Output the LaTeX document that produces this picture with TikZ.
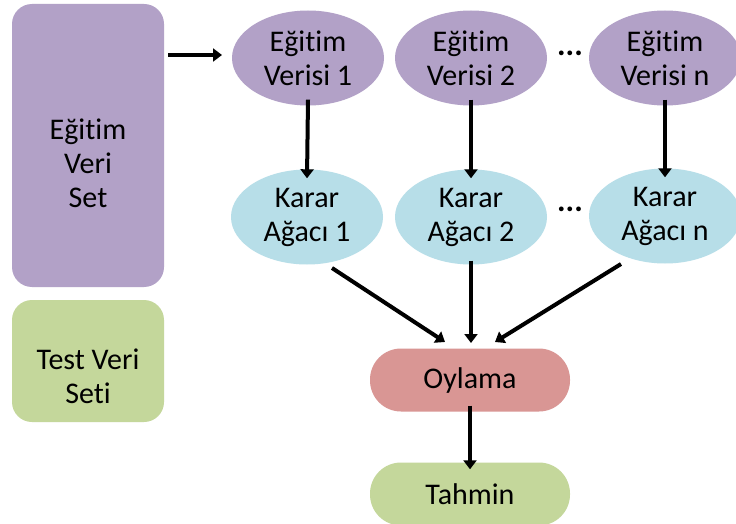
\documentclass[tikz,border=0pt]{standalone}
\usepackage{fontspec}
\setmainfont{Carlito}[Ligatures=NoCommon]
\usetikzlibrary{shapes.geometric,arrows.meta}
\definecolor{lpurple}{HTML}{B2A1C7}
\definecolor{lblue}{HTML}{B7DEE8}
\definecolor{lred}{HTML}{D99694}
\definecolor{lgreen}{HTML}{C4D79B}
\tikzset{
  txt/.style={font=\fontsize{30}{34}\selectfont, text=black, align=center},
  ell/.style={ellipse, txt, minimum width=152pt, minimum height=95pt, inner sep=0pt},
  trainell/.style={ell, fill=lpurple},
  treeell/.style={ell, fill=lblue},
  box/.style={rectangle, rounded corners=20pt, inner sep=0pt},
  pill/.style={rectangle, rounded corners=31pt, txt, minimum width=200pt, minimum height=63pt, inner sep=0pt},
  arr/.style={line width=4pt, -{Triangle[width=13pt,length=9pt]}},
  dots/.style={font=\fontsize{32}{34}\selectfont\bfseries}
}
\begin{document}
\begin{tikzpicture}[x=1pt,y=-1pt]
\useasboundingbox (0,0) rectangle (736,524);
\fill[white] (0,0) rectangle (736,524);
\node[box, fill=lpurple, minimum width=152pt, minimum height=283pt] (set) at (88,145.5) {};
\node[txt] (settxt) at ([yshift=-18pt]set.center) {Eğitim\\Veri\\Set};
\node[box, fill=lgreen, minimum width=152pt, minimum height=122pt] (test) at (88,361) {};
\node[txt] (testtxt) at ([yshift=-15pt]test.center) {Test Veri\\Seti};
\node[trainell] (e1) at (308,58) {Eğitim\\Verisi 1};
\node[trainell] (e2) at (471,58) {Eğitim\\Verisi 2};
\node[trainell] (en) at (665,58) {Eğitim\\Verisi n};
\node[treeell] (k1) at (307,217) {Karar\\Ağacı 1};
\node[treeell] (k2) at (471,217) {Karar\\Ağacı 2};
\node[treeell] (kn) at (665,216) {Karar\\Ağacı n};
\node[dots] (d1) at (570,53) {...};
\node[dots] (d2) at (570,209) {...};
\node[pill, fill=lred] (oy) at (470,380) {Oylama};
\node[pill, fill=lgreen] (ta) at (470,494) {Tahmin};
\coordinate (a0) at (168,55);
\coordinate (a1) at (222,55);
\draw[arr] (a0) -- (a1);
\draw[arr] ([yshift=6pt]e1.south) -- ([yshift=-9pt]k1.north);
\draw[arr] ([yshift=6pt]e2.south) -- ([yshift=-9pt]k2.north);
\draw[arr] ([yshift=6pt]en.south) -- ([yshift=-9pt]kn.north);
\coordinate (s1) at (332,268);
\coordinate (s3) at (621,264);
\coordinate (t1) at (445,342);
\coordinate (t2) at (471,343);
\coordinate (t3) at (495,342);
\draw[arr] (s1) -- (t1);
\draw[arr] ([yshift=4pt]k2.south) -- (t2);
\draw[arr] (s3) -- (t3);
\draw[arr] ([yshift=6pt]oy.south) -- ([yshift=-7pt]ta.north);
\end{tikzpicture}
\end{document}
